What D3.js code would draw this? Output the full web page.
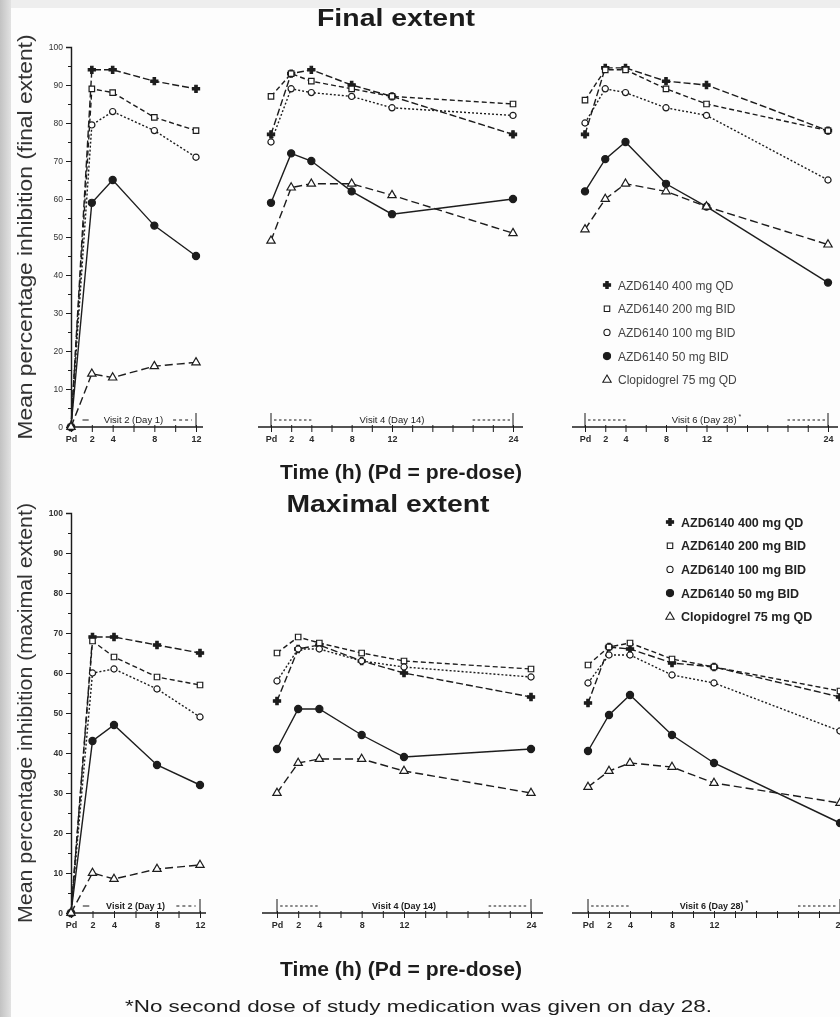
<!DOCTYPE html>
<html>
<head>
<meta charset="utf-8">
<script src="https://cdn.jsdelivr.net/npm/d3@7"></script>
<style>
  body { margin: 0; background: #fff; }
  svg { display: block; font-family: "Liberation Sans", Arial, sans-serif; }
</style>
</head>
<body>
<svg id="chart" width="840" height="1017"></svg>
<script>
// --- data ---
const seriesNames = ["AZD6140 400 mg QD", "AZD6140 200 mg BID", "AZD6140 100 mg BID", "AZD6140 50 mg BID", "Clopidogrel 75 mg QD"];
const hoursDay1 = [0, 2, 4, 8, 12];
const hoursLater = [0, 2, 4, 8, 12, 24];
const tickHoursDay1 = [0, 2, 4, 6, 8, 10, 12];
const tickHoursLater = [0, 2, 4, 6, 8, 10, 12, 14, 16, 18, 20, 22, 24];
const labelledHours = [0, 2, 4, 8, 12, 24];
const yTickValues = [0, 10, 20, 30, 40, 50, 60, 70, 80, 90, 100];
const visitLabels = ["Visit 2 (Day 1)", "Visit 4 (Day 14)", "Visit 6 (Day 28)"];

// final extent, one row per series (same order as seriesNames)
const finalDay1 = [
  [0, 94, 94, 91, 89],
  [0, 89, 88, 81.5, 78],
  [0, 79.5, 83, 78, 71],
  [0, 59, 65, 53, 45],
  [0, 14, 13, 16, 17]
];
const finalDay14 = [
  [77, 93, 94, 90, 87, 77],
  [87, 93, 91, 89, 87, 85],
  [75, 89, 88, 87, 84, 82],
  [59, 72, 70, 62, 56, 60],
  [49, 63, 64, 64, 61, 51]
];
const finalDay28 = [
  [77, 94.5, 94.5, 91, 90, 78],
  [86, 94, 94, 89, 85, 78],
  [80, 89, 88, 84, 82, 65],
  [62, 70.5, 75, 64, 58, 38],
  [52, 60, 64, 62, 58, 48]
];

// maximal extent
const maxDay1 = [
  [0, 69, 69, 67, 65],
  [0, 68, 64, 59, 57],
  [0, 60, 61, 56, 49],
  [0, 43, 47, 37, 32],
  [0, 10, 8.5, 11, 12]
];
const maxDay14 = [
  [53, 66, 67, 63, 60, 54],
  [65, 69, 67.5, 65, 63, 61],
  [58, 66, 66, 63, 61.5, 59],
  [41, 51, 51, 44.5, 39, 41],
  [30, 37.5, 38.5, 38.5, 35.5, 30]
];
const maxDay28 = [
  [52.5, 66.5, 66, 62.5, 61.5, 54],
  [62, 66.5, 67.5, 63.5, 61.5, 55.5],
  [57.5, 64.5, 64.5, 59.5, 57.5, 45.5],
  [40.5, 49.5, 54.5, 44.5, 37.5, 22.5],
  [31.5, 35.5, 37.5, 36.5, 32.5, 27.5]
];

// --- styling ---
const ink = "#1c1c1c";
const seriesStyle = [
  {dash: "7,3", symbol: d3.symbolCross, size: 28, fill: ink},
  {dash: "5,3", symbol: d3.symbolSquare, size: 30, fill: "#fff"},
  {dash: "2,2", symbol: d3.symbolCircle, size: 30, fill: "#fff"},
  {dash: null, symbol: d3.symbolCircle, size: 40, fill: ink},
  {dash: "8,4", symbol: d3.symbolTriangle, size: 30, fill: "#fff"}
];

const rows = [
  {
    title: "Final extent", titleX: 396, titleY: 26, titleLen: 158,
    yTitle: "Mean percentage inhibition (final extent)", yTitleLen: 405,
    yRange: [427, 47], xLabelY: 479,
    panels: [[71, 196], [271, 513], [585, 828]],
    axisExt: [[71, 203], [258, 523], [572, 838]],
    data: [finalDay1, finalDay14, finalDay28],
    legendX: 607, legendY: 285, bold: false
  },
  {
    title: "Maximal extent", titleX: 388, titleY: 512, titleLen: 203,
    yTitle: "Mean percentage inhibition (maximal extent)", yTitleLen: 420,
    yRange: [913, 513], xLabelY: 976,
    panels: [[71, 200], [277, 531], [588, 840]],
    axisExt: [[71, 206], [262, 543], [572, 850]],
    data: [maxDay1, maxDay14, maxDay28],
    legendX: 670, legendY: 522, bold: true
  }
];

const svg = d3.select("#chart");

// scan background: grey strip on the left, light band at the top
const defs = svg.append("defs");
const grad = defs.append("linearGradient").attr("id", "strip").attr("x1", 0).attr("x2", 1);
grad.append("stop").attr("offset", 0).attr("stop-color", "#c2c2c2");
grad.append("stop").attr("offset", 1).attr("stop-color", "#e2e2e2");
defs.append("filter").attr("id", "soft")
  .append("feGaussianBlur").attr("stdDeviation", 0.3);
svg.append("rect").attr("width", 840).attr("height", 1017).attr("fill", "#fdfdfd");
svg.append("rect").attr("width", 840).attr("height", 8).attr("fill", "#eeeeee");
svg.append("rect").attr("width", 11).attr("height", 1017).attr("fill", "url(#strip)");

const plot = svg.append("g").attr("filter", "url(#soft)");

rows.forEach(row => {
  const y = d3.scaleLinear().domain([0, 100]).range(row.yRange);
  const weight = row.bold ? "bold" : "normal";

  plot.append("text")
      .attr("x", row.titleX).attr("y", row.titleY)
      .attr("text-anchor", "middle")
      .attr("font-size", 24).attr("font-weight", "bold").attr("fill", ink)
      .attr("textLength", row.titleLen).attr("lengthAdjust", "spacingAndGlyphs")
      .text(row.title);

  const yMid = (row.yRange[0] + row.yRange[1]) / 2;
  plot.append("text")
      .attr("transform", `translate(32,${yMid}) rotate(-90)`)
      .attr("text-anchor", "middle")
      .attr("font-size", 20).attr("fill", "#333")
      .attr("textLength", row.yTitleLen).attr("lengthAdjust", "spacingAndGlyphs")
      .text(row.yTitle);

  plot.append("text")
      .attr("x", 401).attr("y", row.xLabelY)
      .attr("text-anchor", "middle")
      .attr("font-size", 20).attr("font-weight", "bold").attr("fill", ink)
      .attr("textLength", 242).attr("lengthAdjust", "spacingAndGlyphs")
      .text("Time (h) (Pd = pre-dose)");

  // y axis on the first panel only
  plot.append("g").attr("transform", `translate(${row.panels[0][0]},0)`)
      .call(d3.axisLeft(y).tickValues(yTickValues).tickSize(5).tickPadding(3))
      .call(g => g.select(".domain").attr("stroke", ink).attr("stroke-width", 1.4))
      .call(g => g.selectAll(".tick line").attr("stroke", ink))
      .call(g => g.selectAll(".tick text")
          .attr("font-size", 8.5).attr("font-weight", weight)
          .attr("font-family", "Liberation Sans, Arial, sans-serif").attr("fill", "#333"));
  plot.append("g").attr("transform", `translate(${row.panels[0][0]},0)`)
      .call(d3.axisLeft(y).tickValues(d3.range(5, 100, 10)).tickSize(3).tickFormat(""))
      .call(g => g.select(".domain").remove())
      .call(g => g.selectAll(".tick line").attr("stroke", ink));

  row.panels.forEach((range, p) => {
    const hours = p === 0 ? hoursDay1 : hoursLater;
    const maxH = p === 0 ? 12 : 24;
    const x = d3.scaleLinear().domain([0, maxH]).range(range);
    const baseY = row.yRange[0];
    const g = plot.append("g");

    // x axis
    const xAxisG = g.append("g").attr("transform", `translate(0,${baseY})`);
    xAxisG.call(d3.axisBottom(x)
          .tickValues(p === 0 ? tickHoursDay1 : tickHoursLater)
          .tickFormat(h => labelledHours.includes(h) ? (h === 0 ? "Pd" : h) : "")
          .tickSize(5).tickSizeOuter(0).tickPadding(4))
      .call(a => a.select(".domain").remove())
      .call(a => a.selectAll(".tick line").attr("y1", -2).attr("stroke", ink))
      .call(a => a.selectAll(".tick text")
          .attr("font-size", 9).attr("font-weight", "bold")
          .attr("font-family", "Liberation Sans, Arial, sans-serif").attr("fill", "#2a2a2a"));
    xAxisG.append("line")
        .attr("x1", row.axisExt[p][0]).attr("x2", row.axisExt[p][1])
        .attr("stroke", ink).attr("stroke-width", 1.6);

    // visit bracket above the axis
    const by = baseY - 7;
    const bracket = g.append("g").attr("stroke", ink).attr("stroke-width", 1);
    if (p === 0) {
      bracket.append("line").attr("x1", x(1.1)).attr("x2", x(1.7)).attr("y1", by).attr("y2", by);
      bracket.append("line").attr("x1", x(9.8)).attr("x2", x(11.6)).attr("y1", by).attr("y2", by)
          .attr("stroke-dasharray", "3,3");
      bracket.append("line").attr("x1", x(12)).attr("x2", x(12)).attr("y1", baseY - 14).attr("y2", baseY);
    } else {
      [0, 24].forEach(h => bracket.append("line")
          .attr("x1", x(h)).attr("x2", x(h)).attr("y1", baseY - 14).attr("y2", baseY));
      bracket.append("line").attr("x1", x(0.3)).attr("x2", x(4)).attr("y1", by).attr("y2", by)
          .attr("stroke-dasharray", "2.5,2.5");
      bracket.append("line").attr("x1", x(20)).attr("x2", x(23.7)).attr("y1", by).attr("y2", by)
          .attr("stroke-dasharray", "2.5,2.5");
    }
    const vt = g.append("text")
        .attr("x", x(p === 0 ? 6 : 12)).attr("y", by + 3)
        .attr("text-anchor", "middle")
        .attr("font-size", row.bold ? 9 : 9.5).attr("font-weight", weight).attr("fill", ink)
        .text(visitLabels[p]);
    if (p === 2) vt.append("tspan").attr("dy", -4).attr("font-size", 7).text(" *");

    // series lines then markers
    const line = d3.line().x((d, i) => x(hours[i])).y(d => y(d));
    row.data[p].forEach((vals, s) => {
      g.append("path")
          .datum(vals)
          .attr("fill", "none")
          .attr("stroke", ink)
          .attr("stroke-width", 1.4)
          .attr("stroke-dasharray", seriesStyle[s].dash)
          .attr("d", line);
    });
    row.data[p].forEach((vals, s) => {
      const st = seriesStyle[s];
      g.selectAll(null)
        .data(vals)
        .join("path")
          .attr("transform", (d, i) => `translate(${x(hours[i])},${y(d)})`)
          .attr("d", d3.symbol(st.symbol, st.size))
          .attr("fill", st.fill)
          .attr("stroke", ink)
          .attr("stroke-width", 1.2);
    });
  });

  // legend
  const leg = plot.append("g").attr("transform", `translate(${row.legendX},${row.legendY})`);
  seriesNames.forEach((name, s) => {
    const st = seriesStyle[s];
    const item = leg.append("g").attr("transform", `translate(0,${s * 23.7})`);
    item.append("path")
        .attr("d", d3.symbol(st.symbol, st.size))
        .attr("fill", st.fill).attr("stroke", ink).attr("stroke-width", 1.1);
    item.append("text")
        .attr("x", 11).attr("y", 4.5)
        .attr("font-size", row.bold ? 12.5 : 12).attr("font-weight", weight)
        .attr("fill", row.bold ? "#222" : "#444")
        .text(name);
  });
});

plot.append("text")
    .attr("x", 125).attr("y", 1012)
    .attr("font-size", 17).attr("fill", ink)
    .attr("textLength", 587).attr("lengthAdjust", "spacingAndGlyphs")
    .text("*No second dose of study medication was given on day 28.");
</script>
</body>
</html>
